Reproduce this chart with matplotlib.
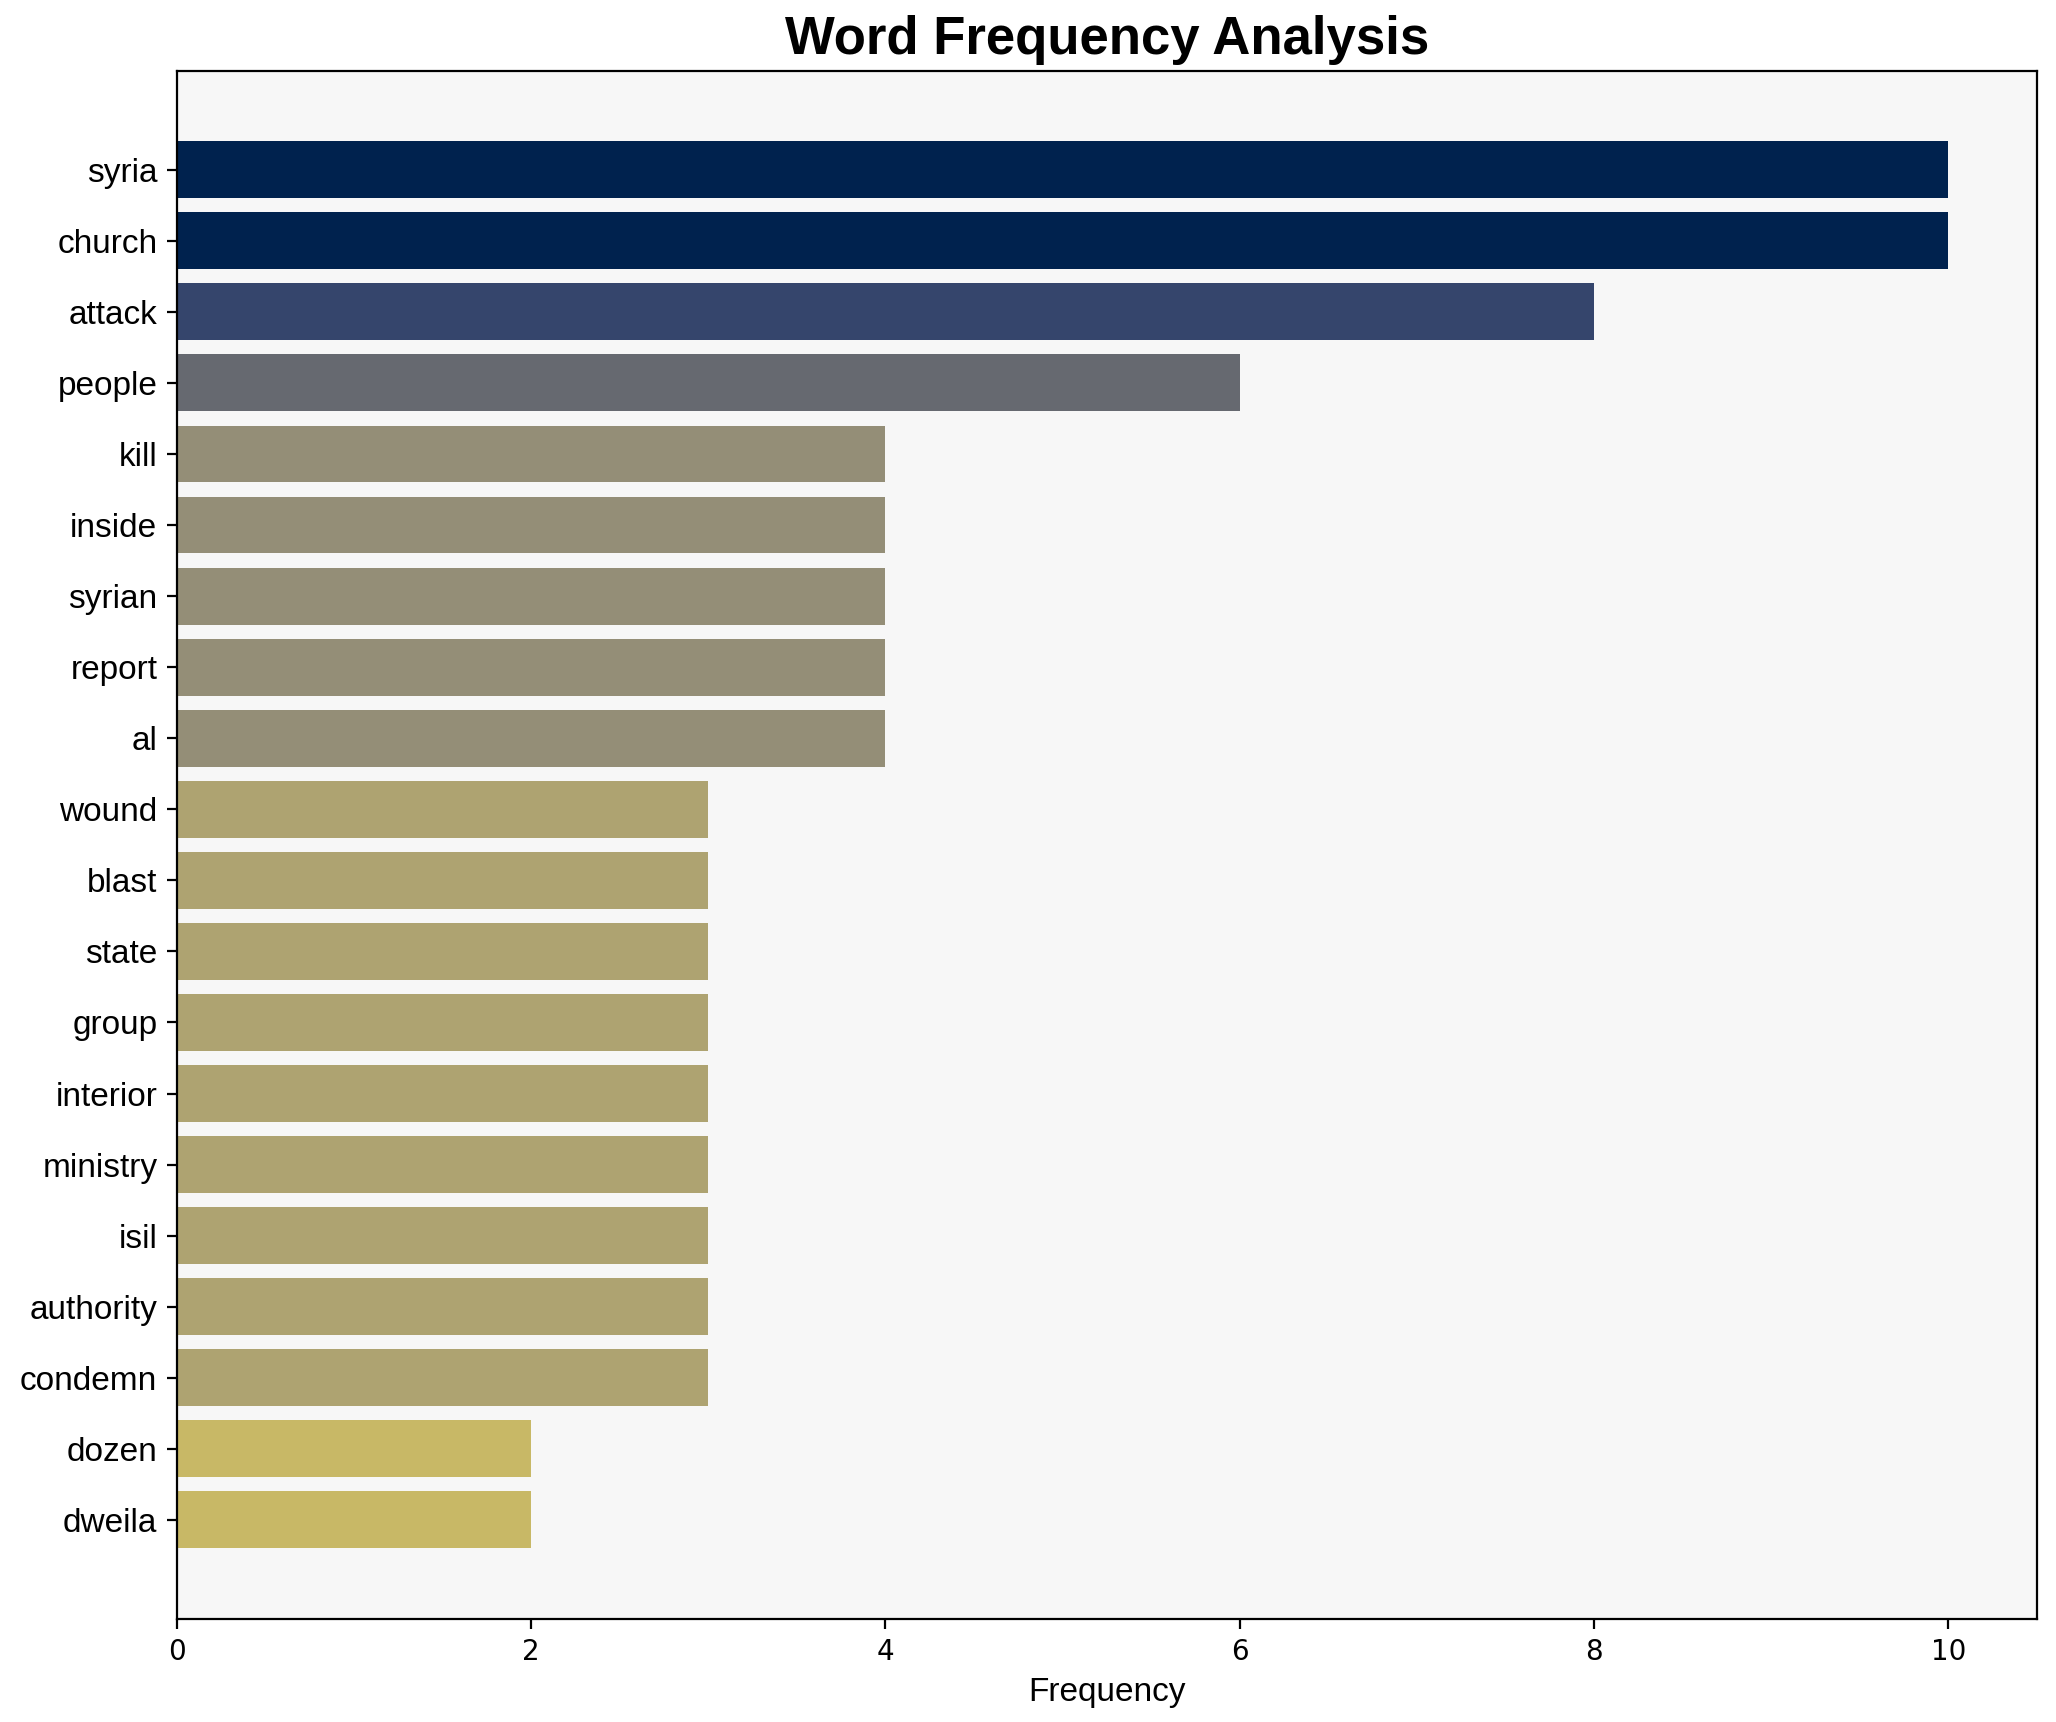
import matplotlib
matplotlib.use('Agg')
import matplotlib.pyplot as plt
import numpy as np

plt.rcParams['font.family'] = ['Liberation Sans', 'DejaVu Sans']

# word counts
words = ['syria', 'church', 'attack', 'people', 'kill', 'inside', 'syrian', 'report', 'al',
         'wound', 'blast', 'state', 'group', 'interior', 'ministry', 'isil', 'authority',
         'condemn', 'dozen', 'dweila']
counts = [10, 10, 8, 6, 4, 4, 4, 4, 4, 3, 3, 3, 3, 3, 3, 3, 3, 3, 2, 2]

fig, ax = plt.subplots(figsize=(10.28, 8.61), dpi=200)

cmap = plt.get_cmap('cividis')
vals = np.array(counts, dtype=float)
colors = [cmap(1 - v / vals.max()) for v in vals]

ypos = np.arange(len(words))
ax.barh(ypos, counts, color=colors, height=0.8)
ax.set_yticks(ypos)
ax.set_yticklabels(words, fontsize=12)
ax.invert_yaxis()
ax.set_facecolor('#f7f7f7')
ax.set_xlabel('Frequency', fontsize=12)
for lbl in ax.get_xticklabels():
    lbl.set_fontfamily('DejaVu Sans')
    lbl.set_fontsize(10)
ax.set_title('Word Frequency Analysis', fontsize=19, weight='bold')

fig.subplots_adjust(left=0.086, right=0.9907, top=0.9588, bottom=0.06)
plt.savefig('out.png', dpi=200)
